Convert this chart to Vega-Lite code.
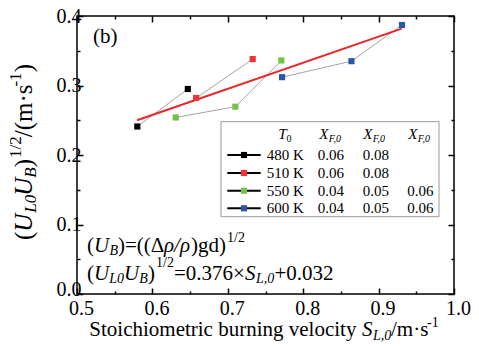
{
  "$schema": "https://vega.github.io/schema/vega-lite/v6.json",
  "width": 377,
  "height": 278,
  "autosize": {"type": "none"},
  "padding": {"left": 77, "top": 16, "right": 25, "bottom": 54},
  "background": "white",
  "config": {
    "view": {"stroke": "black", "strokeWidth": 1.5},
    "font": "Liberation Serif",
    "text": {"font": "Liberation Serif", "color": "black", "align": "left", "baseline": "alphabetic"}
  },
  "datasets": {
    "pts": [
      {"T": "480 K", "s": 0.580, "u": 0.241},
      {"T": "480 K", "s": 0.647, "u": 0.295},
      {"T": "510 K", "s": 0.658, "u": 0.282},
      {"T": "510 K", "s": 0.733, "u": 0.338},
      {"T": "550 K", "s": 0.631, "u": 0.254},
      {"T": "550 K", "s": 0.710, "u": 0.2695},
      {"T": "550 K", "s": 0.771, "u": 0.336},
      {"T": "600 K", "s": 0.772, "u": 0.312},
      {"T": "600 K", "s": 0.864, "u": 0.335},
      {"T": "600 K", "s": 0.931, "u": 0.387}
    ],
    "fit": [
      {"s": 0.5796, "u": 0.2499},
      {"s": 0.9306, "u": 0.3819}
    ],
    "leg": [
      {"T": "480 K", "ys": 0.2000},
      {"T": "510 K", "ys": 0.1741},
      {"T": "550 K", "ys": 0.1486},
      {"T": "600 K", "ys": 0.1233}
    ],
    "box": [{"x1": 0.69098, "x2": 0.98011, "y1": 0.24791, "y2": 0.11122}],
    "frag": [
      {"k": "n", "t": "(", "x": 0.51326, "y": 0.06043},
      {"k": "i", "t": "U", "x": 0.52255, "y": 0.06043},
      {"k": "s", "t": "B", "x": 0.54310, "y": 0.05612},
      {"k": "n", "t": ")=((Δ", "x": 0.55438, "y": 0.06043},
      {"k": "i", "t": "ρ/ρ", "x": 0.61538, "y": 0.06043},
      {"k": "n", "t": ")gd)", "x": 0.65119, "y": 0.06043},
      {"k": "p", "t": "1/2", "x": 0.69894, "y": 0.0755},
      {"k": "n", "t": "(", "x": 0.51326, "y": 0.02014},
      {"k": "i", "t": "U", "x": 0.52255, "y": 0.02014},
      {"k": "s", "t": "L0", "x": 0.54271, "y": 0.01583},
      {"k": "i", "t": "U", "x": 0.56233, "y": 0.02014},
      {"k": "s", "t": "B", "x": 0.58249, "y": 0.01583},
      {"k": "n", "t": ")", "x": 0.59416, "y": 0.02014},
      {"k": "p", "t": "1/2", "x": 0.60477, "y": 0.03885},
      {"k": "n", "t": "=0.376×", "x": 0.62865, "y": 0.02014},
      {"k": "i", "t": "S", "x": 0.72281, "y": 0.02014},
      {"k": "s", "t": "L,0", "x": 0.73740, "y": 0.01583},
      {"k": "n", "t": "+0.032", "x": 0.76194, "y": 0.02014},
      {"k": "n", "t": "(b)", "x": 0.52122, "y": 0.36072},
      {"k": "li", "t": "T", "x": 0.76698, "y": 0.22259},
      {"k": "lsn", "t": "0", "x": 0.77798, "y": 0.21871},
      {"k": "li", "t": "X", "x": 0.82135, "y": 0.22259},
      {"k": "ls", "t": "F,0", "x": 0.83395, "y": 0.21871},
      {"k": "li", "t": "X", "x": 0.87971, "y": 0.22259},
      {"k": "ls", "t": "F,0", "x": 0.89231, "y": 0.21871},
      {"k": "li", "t": "X", "x": 0.93939, "y": 0.22259},
      {"k": "ls", "t": "F,0", "x": 0.95199, "y": 0.21871},
      {"k": "ln", "t": "480 K", "x": 0.75159, "y": 0.19281},
      {"k": "ln", "t": "0.06", "x": 0.81923, "y": 0.19281},
      {"k": "ln", "t": "0.08", "x": 0.87891, "y": 0.19281},
      {"k": "ln", "t": "510 K", "x": 0.75159, "y": 0.16691},
      {"k": "ln", "t": "0.06", "x": 0.81923, "y": 0.16691},
      {"k": "ln", "t": "0.08", "x": 0.87891, "y": 0.16691},
      {"k": "ln", "t": "550 K", "x": 0.75159, "y": 0.14144},
      {"k": "ln", "t": "0.04", "x": 0.81923, "y": 0.14144},
      {"k": "ln", "t": "0.05", "x": 0.87891, "y": 0.14144},
      {"k": "ln", "t": "0.06", "x": 0.93806, "y": 0.14144},
      {"k": "ln", "t": "600 K", "x": 0.75159, "y": 0.11612},
      {"k": "ln", "t": "0.04", "x": 0.81923, "y": 0.11612},
      {"k": "ln", "t": "0.05", "x": 0.87891, "y": 0.11612},
      {"k": "ln", "t": "0.06", "x": 0.93806, "y": 0.11612},
      {"k": "tn", "t": "Stoichiometric burning velocity", "x": 0.51631, "y": -0.06043},
      {"k": "ti", "t": "S", "x": 0.87798, "y": -0.06043},
      {"k": "ts", "t": "L,0", "x": 0.89257, "y": -0.06619},
      {"k": "tn", "t": "/m·s", "x": 0.91645, "y": -0.06043},
      {"k": "tp", "t": "-1", "x": 0.96419, "y": -0.04748},
      {"k": "yn", "t": "(", "x": 0.44032, "y": 0.07770},
      {"k": "yi", "t": "U", "x": 0.44032, "y": 0.08964},
      {"k": "ys", "t": "L0", "x": 0.44562, "y": 0.11705},
      {"k": "yi", "t": "U", "x": 0.44032, "y": 0.14144},
      {"k": "ys", "t": "B", "x": 0.44562, "y": 0.16741},
      {"k": "yn", "t": ")", "x": 0.44032, "y": 0.18237},
      {"k": "yp", "t": "1/2", "x": 0.42573, "y": 0.19576},
      {"k": "yn", "t": "/(m·s", "x": 0.44032, "y": 0.22554},
      {"k": "yp", "t": "-1", "x": 0.42573, "y": 0.29849},
      {"k": "yn", "t": ")", "x": 0.44032, "y": 0.31892}
    ]
  },
  "resolve": {"axis": {"x": "independent", "y": "independent"}},
  "layer": [
    {
      "data": {"name": "pts"},
      "mark": {"type": "line", "color": "#8a8a8a", "strokeWidth": 0.8},
      "encoding": {
        "x": {
          "field": "s", "type": "quantitative",
          "scale": {"domain": [0.5, 1.0], "nice": false, "zero": false},
          "axis": {
            "orient": "bottom", "title": null, "grid": false, "domain": false,
            "values": [0.5, 0.55, 0.6, 0.65, 0.7, 0.75, 0.8, 0.85, 0.9, 0.95, 1.0],
            "labelExpr": "round(datum.value*100)%10==0 ? format(datum.value,'.1f') : ''",
            "tickSize": {"condition": {"test": "round(datum.value*100)%10==0", "value": -6}, "value": -3},
            "tickColor": "black", "tickWidth": 1.5,
            "labelFont": "Liberation Serif", "labelFontSize": 20, "labelColor": "black",
            "labelPadding": 10, "labelOffset": 4, "labelFlush": false, "labelOverlap": false
          }
        },
        "y": {
          "field": "u", "type": "quantitative",
          "scale": {"domain": [0, 0.4], "nice": false},
          "axis": {
            "orient": "left", "title": null, "grid": false, "domain": false,
            "values": [0, 0.05, 0.1, 0.15, 0.2, 0.25, 0.3, 0.35, 0.4],
            "labelExpr": "round(datum.value*100)%10==0 ? format(datum.value,'.1f') : ''",
            "tickSize": {"condition": {"test": "round(datum.value*100)%10==0", "value": -6}, "value": -3},
            "tickColor": "black", "tickWidth": 1.5,
            "labelFont": "Liberation Serif", "labelFontSize": 20, "labelColor": "black",
            "labelOffset": {"condition": {"test": "datum.value < 0.01", "value": -5}, "value": 0},
            "labelPadding": 2, "labelFlush": false, "labelOverlap": false
          }
        },
        "detail": {"field": "T"}
      }
    },
    {
      "data": {"name": "fit"},
      "mark": {"type": "line", "color": "#e8262a", "strokeWidth": 2},
      "encoding": {
        "x": {
          "field": "s", "type": "quantitative",
          "axis": {
            "orient": "top", "title": null, "grid": false, "domain": false, "labels": false,
            "values": [0.5, 0.55, 0.6, 0.65, 0.7, 0.75, 0.8, 0.85, 0.9, 0.95, 1.0],
            "tickSize": {"condition": {"test": "round(datum.value*100)%10==0", "value": -6}, "value": -3},
            "tickColor": "black", "tickWidth": 1.5
          }
        },
        "y": {
          "field": "u", "type": "quantitative",
          "axis": {
            "orient": "right", "title": null, "grid": false, "domain": false, "labels": false,
            "values": [0, 0.05, 0.1, 0.15, 0.2, 0.25, 0.3, 0.35, 0.4],
            "tickSize": {"condition": {"test": "round(datum.value*100)%10==0", "value": -6}, "value": -3},
            "tickColor": "black", "tickWidth": 1.5
          }
        }
      }
    },
    {
      "data": {"name": "pts"},
      "mark": {"type": "square", "size": 38, "opacity": 1, "filled": true},
      "encoding": {
        "x": {"field": "s", "type": "quantitative", "axis": null},
        "y": {"field": "u", "type": "quantitative", "axis": null},
        "color": {
          "field": "T", "type": "nominal", "legend": null,
          "scale": {"domain": ["480 K", "510 K", "550 K", "600 K"], "range": ["#000000", "#f03232", "#72c246", "#2a58a6"]}
        }
      }
    },
    {
      "data": {"name": "box"},
      "mark": {"type": "rect", "fill": "white", "stroke": "#9a9a9a", "strokeWidth": 1},
      "encoding": {
        "x": {"field": "x1", "type": "quantitative", "axis": null},
        "x2": {"field": "x2"},
        "y": {"field": "y1", "type": "quantitative", "axis": null},
        "y2": {"field": "y2"}
      }
    },
    {
      "data": {"name": "leg"},
      "mark": {"type": "rule", "color": "black", "strokeWidth": 2},
      "encoding": {
        "x": {"datum": 0.69934, "type": "quantitative", "axis": null},
        "x2": {"datum": 0.74363},
        "y": {"field": "ys", "type": "quantitative", "axis": null}
      }
    },
    {
      "data": {"name": "leg"},
      "mark": {"type": "square", "size": 38, "opacity": 1, "filled": true},
      "encoding": {
        "x": {"datum": 0.72149, "type": "quantitative", "axis": null},
        "y": {"field": "ys", "type": "quantitative", "axis": null},
        "color": {"field": "T", "type": "nominal", "legend": null}
      }
    },
    {
      "data": {"name": "frag"},
      "transform": [{"filter": "datum.k == 'n'"}],
      "mark": {"type": "text", "fontSize": 21},
      "encoding": {
        "x": {"field": "x", "type": "quantitative", "axis": null},
        "y": {"field": "y", "type": "quantitative", "axis": null},
        "text": {"field": "t"}
      }
    },
    {
      "data": {"name": "frag"},
      "transform": [{"filter": "datum.k == 'i'"}],
      "mark": {"type": "text", "fontSize": 21, "fontStyle": "italic"},
      "encoding": {
        "x": {"field": "x", "type": "quantitative", "axis": null},
        "y": {"field": "y", "type": "quantitative", "axis": null},
        "text": {"field": "t"}
      }
    },
    {
      "data": {"name": "frag"},
      "transform": [{"filter": "datum.k == 's'"}],
      "mark": {"type": "text", "fontSize": 14, "fontStyle": "italic"},
      "encoding": {
        "x": {"field": "x", "type": "quantitative", "axis": null},
        "y": {"field": "y", "type": "quantitative", "axis": null},
        "text": {"field": "t"}
      }
    },
    {
      "data": {"name": "frag"},
      "transform": [{"filter": "datum.k == 'p'"}],
      "mark": {"type": "text", "fontSize": 14},
      "encoding": {
        "x": {"field": "x", "type": "quantitative", "axis": null},
        "y": {"field": "y", "type": "quantitative", "axis": null},
        "text": {"field": "t"}
      }
    },
    {
      "data": {"name": "frag"},
      "transform": [{"filter": "datum.k == 'ln'"}],
      "mark": {"type": "text", "fontSize": 15},
      "encoding": {
        "x": {"field": "x", "type": "quantitative", "axis": null},
        "y": {"field": "y", "type": "quantitative", "axis": null},
        "text": {"field": "t"}
      }
    },
    {
      "data": {"name": "frag"},
      "transform": [{"filter": "datum.k == 'li'"}],
      "mark": {"type": "text", "fontSize": 15, "fontStyle": "italic"},
      "encoding": {
        "x": {"field": "x", "type": "quantitative", "axis": null},
        "y": {"field": "y", "type": "quantitative", "axis": null},
        "text": {"field": "t"}
      }
    },
    {
      "data": {"name": "frag"},
      "transform": [{"filter": "datum.k == 'ls'"}],
      "mark": {"type": "text", "fontSize": 10, "fontStyle": "italic"},
      "encoding": {
        "x": {"field": "x", "type": "quantitative", "axis": null},
        "y": {"field": "y", "type": "quantitative", "axis": null},
        "text": {"field": "t"}
      }
    },
    {
      "data": {"name": "frag"},
      "transform": [{"filter": "datum.k == 'lsn'"}],
      "mark": {"type": "text", "fontSize": 10},
      "encoding": {
        "x": {"field": "x", "type": "quantitative", "axis": null},
        "y": {"field": "y", "type": "quantitative", "axis": null},
        "text": {"field": "t"}
      }
    },
    {
      "data": {"name": "frag"},
      "transform": [{"filter": "datum.k == 'tn'"}],
      "mark": {"type": "text", "fontSize": 21},
      "encoding": {
        "x": {"field": "x", "type": "quantitative", "axis": null},
        "y": {"field": "y", "type": "quantitative", "axis": null},
        "text": {"field": "t"}
      }
    },
    {
      "data": {"name": "frag"},
      "transform": [{"filter": "datum.k == 'ti'"}],
      "mark": {"type": "text", "fontSize": 21, "fontStyle": "italic"},
      "encoding": {
        "x": {"field": "x", "type": "quantitative", "axis": null},
        "y": {"field": "y", "type": "quantitative", "axis": null},
        "text": {"field": "t"}
      }
    },
    {
      "data": {"name": "frag"},
      "transform": [{"filter": "datum.k == 'ts'"}],
      "mark": {"type": "text", "fontSize": 14, "fontStyle": "italic"},
      "encoding": {
        "x": {"field": "x", "type": "quantitative", "axis": null},
        "y": {"field": "y", "type": "quantitative", "axis": null},
        "text": {"field": "t"}
      }
    },
    {
      "data": {"name": "frag"},
      "transform": [{"filter": "datum.k == 'tp'"}],
      "mark": {"type": "text", "fontSize": 14},
      "encoding": {
        "x": {"field": "x", "type": "quantitative", "axis": null},
        "y": {"field": "y", "type": "quantitative", "axis": null},
        "text": {"field": "t"}
      }
    },
    {
      "data": {"name": "frag"},
      "transform": [{"filter": "datum.k == 'yn'"}],
      "mark": {"type": "text", "fontSize": 25, "angle": 270},
      "encoding": {
        "x": {"field": "x", "type": "quantitative", "axis": null},
        "y": {"field": "y", "type": "quantitative", "axis": null},
        "text": {"field": "t"}
      }
    },
    {
      "data": {"name": "frag"},
      "transform": [{"filter": "datum.k == 'yi'"}],
      "mark": {"type": "text", "fontSize": 25, "angle": 270, "fontStyle": "italic"},
      "encoding": {
        "x": {"field": "x", "type": "quantitative", "axis": null},
        "y": {"field": "y", "type": "quantitative", "axis": null},
        "text": {"field": "t"}
      }
    },
    {
      "data": {"name": "frag"},
      "transform": [{"filter": "datum.k == 'ys'"}],
      "mark": {"type": "text", "fontSize": 17, "angle": 270, "fontStyle": "italic"},
      "encoding": {
        "x": {"field": "x", "type": "quantitative", "axis": null},
        "y": {"field": "y", "type": "quantitative", "axis": null},
        "text": {"field": "t"}
      }
    },
    {
      "data": {"name": "frag"},
      "transform": [{"filter": "datum.k == 'yp'"}],
      "mark": {"type": "text", "fontSize": 17, "angle": 270},
      "encoding": {
        "x": {"field": "x", "type": "quantitative", "axis": null},
        "y": {"field": "y", "type": "quantitative", "axis": null},
        "text": {"field": "t"}
      }
    }
  ]
}
